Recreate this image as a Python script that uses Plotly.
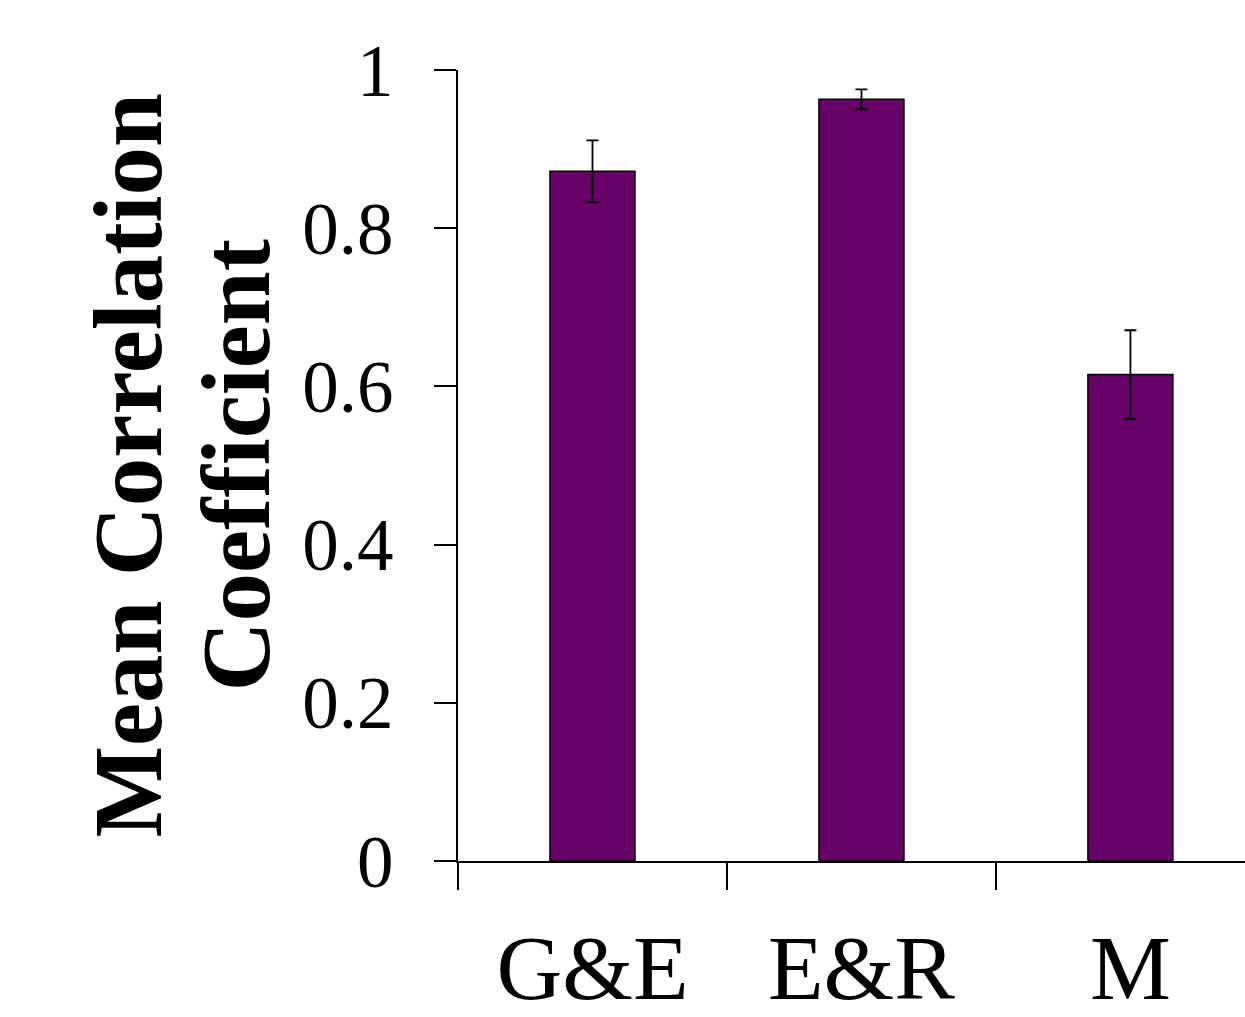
import plotly.graph_objects as go

categories = ["G&E", "E&R", "M"]
values = [0.872, 0.963, 0.615]
errors = [0.039, 0.0126, 0.056]
y_ticks = [0, 0.2, 0.4, 0.6, 0.8, 1]
y_tick_labels = ["0", "0.2", "0.4", "0.6", "0.8", "1"]
title_lines = ["Mean Correlation", "Coefficient"]

FONT = "Liberation Serif, Times New Roman, serif"

W, H = 1245, 1017
L, T, B = 458, 70, 156

fig = go.Figure()
fig.add_trace(go.Bar(
    x=categories, y=values, width=0.316,
    marker=dict(color="#660066", line=dict(color="black", width=1.5)),
    error_y=dict(type="data", array=errors, visible=True, color="black", thickness=1.8, width=6),
))

fig.update_layout(
    width=W, height=H,
    margin=dict(l=L, r=0, t=T, b=B, autoexpand=False),
    paper_bgcolor="white", plot_bgcolor="white",
    showlegend=False,
    font=dict(family=FONT, color="black"),
    xaxis=dict(
        range=[-0.5, 2.426], showline=True, linecolor="black", linewidth=2,
        ticks="outside", ticklen=27, tickwidth=1.5, tickcolor="black", tickson="boundaries",
        tickfont=dict(size=91, family=FONT), showgrid=False, zeroline=False,
        ticklabelstandoff=27, automargin=False,
    ),
    yaxis=dict(
        range=[0, 1], showline=True, linecolor="black", linewidth=2,
        ticks="outside", ticklen=22, tickwidth=2, tickcolor="black",
        tickvals=y_ticks, ticktext=y_tick_labels,
        tickfont=dict(size=73, family=FONT), showgrid=False, zeroline=False,
        ticklabelstandoff=26, automargin=False,
    ),
)

xs = [128, 236]
pw = W - L
for line, xp in zip(title_lines, xs):
    fig.add_annotation(
        text="<b>%s</b>" % line, textangle=-90,
        xref="paper", yref="paper", x=(xp - L) / pw, y=0.5,
        xanchor="center", yanchor="middle", showarrow=False,
        font=dict(size=97, family=FONT, color="black"),
    )

fig.write_html(
    "out.html",
    config={"displayModeBar": False},
    post_script="document.body.style.margin='0';document.body.style.overflow='hidden';",
)
